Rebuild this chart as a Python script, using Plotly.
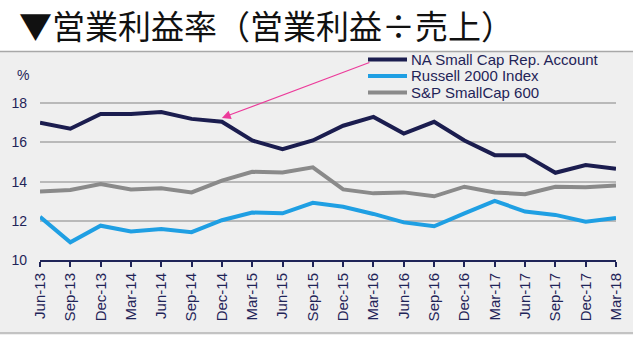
import plotly.graph_objects as go

# Quarter-end labels
quarters = ["Jun-13", "Sep-13", "Dec-13", "Mar-14", "Jun-14", "Sep-14", "Dec-14",
            "Mar-15", "Jun-15", "Sep-15", "Dec-15", "Mar-16", "Jun-16", "Sep-16",
            "Dec-16", "Mar-17", "Jun-17", "Sep-17", "Dec-17", "Mar-18"]

# Operating margin (%) per series
na_small_cap = [17.0, 16.7, 17.45, 17.45, 17.55, 17.2, 17.05, 16.1, 15.65, 16.1,
                16.85, 17.3, 16.45, 17.05, 16.1, 15.35, 15.35, 14.45, 14.85, 14.65]
russell_2000 = [12.2, 10.9, 11.75, 11.45, 11.58, 11.42, 12.03, 12.42, 12.38, 12.92,
                12.72, 12.35, 11.92, 11.72, 12.38, 13.02, 12.47, 12.3, 11.95, 12.15]
sp_600 = [13.5, 13.57, 13.88, 13.6, 13.66, 13.45, 14.05, 14.5, 14.46, 14.73,
          13.6, 13.4, 13.45, 13.25, 13.74, 13.44, 13.36, 13.74, 13.71, 13.8]

series_names = ["NA Small Cap Rep. Account", "Russell 2000 Index", "S&P SmallCap 600"]
series_values = [na_small_cap, russell_2000, sp_600]
series_colors = ["#1b1d4f", "#1f9fe3", "#8a8a8a"]

y_ticks = [10, 12, 14, 16, 18]

title_text = "▼営業利益率（営業利益÷売上）"

W, H = 640, 337
L, R, T, B = 40, 24, 64, 77
plot_w = W - L - R
plot_h = H - T - B


def px_x(p):
    return (p - L) / plot_w


def px_y(p):
    return (H - B - p) / plot_h


navy = "#1f2458"
font_main = "Liberation Sans, Arial, sans-serif"

fig = go.Figure()

for name, vals, col in zip(series_names, series_values, series_colors):
    fig.add_trace(go.Scatter(
        x=quarters, y=vals, name=name, mode="lines",
        line=dict(color=col, width=4),
        showlegend=False, hoverinfo="skip",
    ))

shapes = [
    # grey panel behind the chart
    dict(type="rect", xref="paper", yref="paper", layer="below",
         x0=px_x(0), x1=px_x(633), y0=px_y(335), y1=px_y(51),
         fillcolor="#efefef", line=dict(width=0)),
    dict(type="line", xref="paper", yref="paper", layer="below",
         x0=px_x(0), x1=px_x(633), y0=px_y(51.5), y1=px_y(51.5),
         line=dict(color="#a8a8a8", width=1.5)),
    dict(type="line", xref="paper", yref="paper", layer="below",
         x0=px_x(0), x1=px_x(633), y0=px_y(333), y1=px_y(333),
         line=dict(color="#b4b4b4", width=1.5)),
]

annotations = [
    dict(text=title_text, xref="paper", yref="paper", x=px_x(18), y=px_y(24.5),
         xanchor="left", yanchor="middle", showarrow=False, borderpad=0,
         font=dict(family="Noto Sans CJK JP", size=33, color="#111111")),
    dict(text="%", xref="paper", yref="paper", x=px_x(23), y=px_y(75),
         xanchor="center", yanchor="middle", showarrow=False,
         font=dict(family=font_main, size=14, color=navy)),
    # pink pointer to the Dec-14 margin of the account
    dict(x="Dec-14", y=17.25, xref="x", yref="y", text="", showarrow=True,
         ax=149, ay=-56, axref="pixel", ayref="pixel",
         arrowhead=2, arrowsize=1.6, arrowwidth=1.1, arrowcolor="#ec3a9a"),
]

# legend drawn as line samples with labels
leg_rows = [59.5, 76, 92.5]
for name, col, yy in zip(series_names, series_colors, leg_rows):
    shapes.append(dict(type="line", xref="paper", yref="paper",
                       x0=px_x(368), x1=px_x(407), y0=px_y(yy), y1=px_y(yy),
                       line=dict(color=col, width=4)))
    annotations.append(dict(text=name, xref="paper", yref="paper",
                            x=px_x(409), y=px_y(yy), xanchor="left", yanchor="middle",
                            showarrow=False,
                            font=dict(family=font_main, size=15, color=navy)))

fig.update_layout(
    width=W, height=H,
    margin=dict(l=L, r=R, t=T, b=B),
    paper_bgcolor="white",
    plot_bgcolor="rgba(0,0,0,0)",
    shapes=shapes,
    annotations=annotations,
    showlegend=False,
    xaxis=dict(
        type="category", range=[0, len(quarters) - 1],
        tickangle=-90, ticks="outside", ticklen=5, tickwidth=1.5, tickcolor=navy,
        showline=True, linecolor=navy, linewidth=2,
        showgrid=False, zeroline=False,
        tickfont=dict(family=font_main, size=15, color=navy),
    ),
    yaxis=dict(
        range=[10, 20], tickvals=y_ticks, ticktext=[str(v) for v in y_ticks],
        showgrid=True, gridcolor="#b9b9b9", gridwidth=1.5,
        zeroline=False, showline=False, ticks="",
        ticklabelstandoff=12,
        tickfont=dict(family=font_main, size=14, color=navy),
    ),
)

fig.write_html("out.html")
